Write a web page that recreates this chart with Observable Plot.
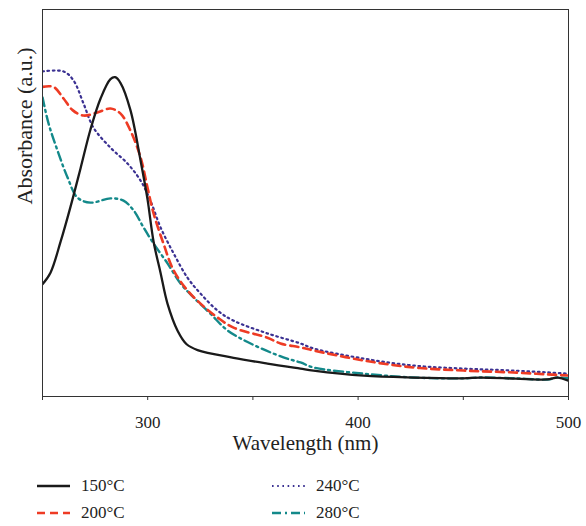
<!DOCTYPE html>
<html><head><meta charset="utf-8">
<script src="https://cdn.jsdelivr.net/npm/d3@7"></script>
<script src="https://cdn.jsdelivr.net/npm/@observablehq/plot@0.6"></script>
<style>
body{margin:0;background:#fff;font-family:"Liberation Serif","Times New Roman",serif;}
#chart svg text{font-family:"Liberation Serif","Times New Roman",serif !important;}
#legend{position:relative;width:586px;height:66px;font-family:"Liberation Serif","Times New Roman",serif;font-size:17px;color:#222;}
.item{position:absolute;display:flex;align-items:center;height:20px;}
.item svg{margin-right:11px;}
</style></head>
<body>
<div id="chart"></div>
<div id="legend"></div>
<script>
const series = ["150°C", "200°C", "240°C", "280°C"];
const colors = ["#1a1a1a", "#ee3b24", "#3b3192", "#13898a"];
const dashes = [null, "8,5", "1.6,3.6", "9,4,2,4"];
const widths = [2.3, 2.6, 2.2, 2.4];

const wl150 = [250, 253.8, 258.6, 263.3, 268.1, 272.8, 277.6, 282.3, 284.5, 287.1, 291.8, 296.6, 299.9, 302.8, 306.1, 309.4, 314.2, 318.5, 323.7, 340.8, 356.9, 372.6, 378.8, 402.6, 426.3, 450.1, 458.2, 475, 490, 494.8, 500];
const ab150 = [0.29, 0.32, 0.40, 0.49, 0.59, 0.69, 0.77, 0.82, 0.825, 0.81, 0.74, 0.61, 0.51, 0.40, 0.32, 0.24, 0.17, 0.135, 0.12, 0.10, 0.085, 0.072, 0.067, 0.054, 0.049, 0.047, 0.049, 0.046, 0.044, 0.049, 0.041];

const wl200 = [250, 255.2, 260, 264.3, 269.5, 276.1, 282.3, 287.1, 291.8, 296.6, 299.9, 302.8, 307.5, 312.3, 318.9, 325.1, 333.2, 340.8, 356.9, 363.1, 372.6, 378.8, 402.6, 426.3, 450.1, 473.9, 500];
const ab200 = [0.80, 0.80, 0.77, 0.74, 0.726, 0.734, 0.744, 0.731, 0.687, 0.618, 0.54, 0.473, 0.395, 0.326, 0.274, 0.24, 0.204, 0.178, 0.152, 0.137, 0.127, 0.119, 0.093, 0.075, 0.067, 0.062, 0.054];

const wl240 = [250, 260, 264.7, 269.5, 274.2, 282.3, 290.4, 296.6, 301.3, 306.1, 312.3, 318.9, 325.1, 333.2, 340.8, 356.9, 372.6, 378.8, 402.6, 426.3, 450.1, 473.9, 500];
const ab240 = [0.84, 0.84, 0.817, 0.757, 0.695, 0.643, 0.602, 0.558, 0.506, 0.437, 0.37, 0.307, 0.266, 0.222, 0.196, 0.163, 0.137, 0.124, 0.098, 0.08, 0.072, 0.067, 0.059];

const wl280 = [250, 252.9, 257.1, 261.9, 266.6, 272.8, 282.3, 288.5, 293.3, 298, 302.8, 309.4, 315.6, 321.8, 329.8, 337.9, 348.9, 364.5, 372.6, 378.8, 402.6, 426.3, 450.1, 458.2, 473.9, 490, 494.8, 500];
const ab280 = [0.773, 0.705, 0.636, 0.566, 0.514, 0.501, 0.512, 0.506, 0.481, 0.437, 0.395, 0.344, 0.292, 0.256, 0.214, 0.171, 0.137, 0.101, 0.088, 0.075, 0.059, 0.049, 0.047, 0.049, 0.047, 0.044, 0.049, 0.047];

const xTicks = [250, 300, 350, 400, 450, 500];
const xLabel = "Wavelength (nm)";
const yLabel = "Absorbance (a.u.)";

const wls = [wl150, wl200, wl240, wl280];
const abs = [ab150, ab200, ab240, ab280];
const data = series.map((s, i) => wls[i].map((w, j) => ({series: s, wl: w, ab: abs[i][j]})));

const lines = data.map((d, i) => Plot.line(d, {
  x: "wl", y: "ab", stroke: colors[i], strokeWidth: widths[i],
  strokeDasharray: dashes[i] || undefined, curve: "catmull-rom", clip: true
}));

const FONT = "Liberation Serif";
const chart = Plot.plot({
  width: 586, height: 460,
  marginLeft: 42, marginRight: 18, marginTop: 9, marginBottom: 64,
  style: {fontFamily: "'Liberation Serif', serif", fontSize: "17px", color: "#222", background: "#fff"},
  x: {domain: [250, 500]},
  y: {domain: [0, 1], axis: null},
  marks: [
    ...lines.reverse(),
    Plot.frame({stroke: "#333", strokeWidth: 1}),
    Plot.axisX({ticks: xTicks, tickSize: 4, tickPadding: 15, stroke: "#333",
      tickFormat: d => d % 100 === 0 ? String(d) : "", label: null, fontSize: 17, fontFamily: FONT}),
    Plot.text([xLabel], {frameAnchor: "bottom", dy: 47, text: d => d, fontSize: 21, fontFamily: FONT, fill: "#222", lineAnchor: "middle"}),
    Plot.text([yLabel], {frameAnchor: "left", dx: -18, dy: 1.5, rotate: -90, text: d => d, fontSize: 22, fontFamily: FONT, fill: "#222", lineAnchor: "middle"})
  ]
});
document.getElementById("chart").appendChild(chart);

const pos = [[37, 26], [37, 53], [272, 26], [272, 53]];
const leg = document.getElementById("legend");
series.forEach((s, i) => {
  const div = document.createElement("div");
  div.className = "item";
  div.style.left = pos[i][0] + "px";
  div.style.top = (pos[i][1] - 10) + "px";
  div.innerHTML = `<svg width="33" height="10"><line x1="0" x2="33" y1="5" y2="5" stroke="${colors[i]}" stroke-width="${widths[i]}" ${dashes[i] ? `stroke-dasharray="${dashes[i]}"` : ""}/></svg><span>${s}</span>`;
  leg.appendChild(div);
});
</script>
</body></html>
